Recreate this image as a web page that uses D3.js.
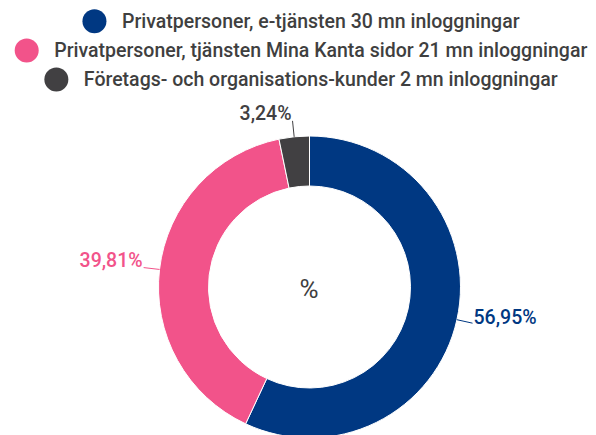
<!DOCTYPE html>
<html>
<head>
<meta charset="utf-8">
<script src="https://cdn.jsdelivr.net/npm/d3@7"></script>
<style>
  body { margin: 0; background: #fff; }
  svg { display: block; font-family: Roboto, "Noto Sans", sans-serif; }
</style>
</head>
<body>
<svg id="chart" width="596" height="435"></svg>
<script>
// data
const categories = [
  "Privatpersoner, e-tjänsten 30 mn inloggningar",
  "Privatpersoner, tjänsten Mina Kanta sidor 21 mn inloggningar",
  "Företags- och organisations-kunder 2 mn inloggningar"
];
const shares = [56.95, 39.81, 3.24];
const labels = ["56,95%", "39,81%", "3,24%"];
const colors = ["#003882", "#f2538a", "#414042"];
const centerText = "%";

const svg = d3.select("#chart");
const cx = 309.5, cy = 287;
const outerR = 151, innerR = 101;
const textColor = "#3f3f3f";

// legend, each row centered on the same x
const legendCenter = 301;
const rowY = [21.3, 50.6, 79.5];
const legend = svg.append("g").attr("class", "legend");
categories.forEach((name, i) => {
  const row = legend.append("g");
  const txt = row.append("text")
    .attr("y", rowY[i] + 6.8)
    .style("font-size", "19.5px")
    .style("font-weight", 500)
    .style("fill", textColor)
    .text(name);
  const tw = txt.node().getComputedTextLength();
  const total = 24 + 15.5 + tw;
  const x0 = legendCenter - total / 2;
  // the widest row gets clipped at the left edge in the original
  row.insert("circle", "text")
    .attr("cx", x0 + 12)
    .attr("cy", rowY[i])
    .attr("r", 12)
    .style("fill", colors[i]);
  txt.attr("x", x0 + 39.5);
});
svg.append("rect")
  .attr("x", 0).attr("y", 0)
  .attr("width", 11.3).attr("height", 100)
  .style("fill", "#fff");

// donut
const pie = d3.pie().sort(null).value((d) => d);
const arcs = pie(shares);
const arc = d3.arc().innerRadius(innerR).outerRadius(outerR);

const g = svg.append("g").attr("transform", `translate(${cx},${cy})`);
g.selectAll("path.slice")
  .data(arcs)
  .enter()
  .append("path")
  .attr("class", "slice")
  .attr("d", arc)
  .style("fill", (d, i) => colors[i])
  .style("stroke", "#fff")
  .style("stroke-width", 1);

// connector lines and labels
const pos = (a, r) => [r * Math.sin(a), -r * Math.cos(a)];
arcs.forEach((d, i) => {
  const mid = (d.startAngle + d.endAngle) / 2;
  const p0 = pos(mid, outerR);
  const p1 = pos(mid, outerR + 16);
  g.append("line")
    .attr("x1", p0[0]).attr("y1", p0[1])
    .attr("x2", p1[0]).attr("y2", p1[1])
    .style("stroke", colors[i])
    .style("stroke-width", 1);
  const right = p1[0] > 0;
  g.append("text")
    .attr("x", p1[0] + (right ? 1 : -1))
    .attr("y", p1[1] + (right ? 1 : -1))
    .attr("text-anchor", right ? "start" : "end")
    .style("font-size", "19.5px")
    .style("font-weight", 500)
    .style("fill", colors[i])
    .text(labels[i]);
});

g.append("text")
  .attr("x", -0.5)
  .attr("y", 11)
  .attr("text-anchor", "middle")
  .style("font-size", "26px")
  .style("fill", textColor)
  .text(centerText);
</script>
</body>
</html>
